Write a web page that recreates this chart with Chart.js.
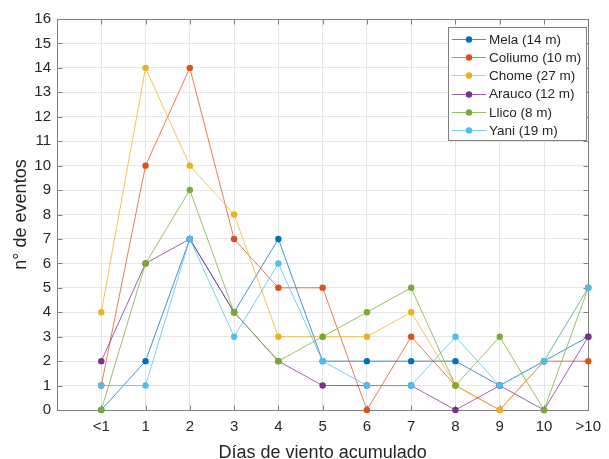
<!DOCTYPE html>
<html>
<head>
<meta charset="utf-8">
<script src="https://cdn.jsdelivr.net/npm/chart.js@4/dist/chart.umd.min.js"></script>
<style>
  html, body { margin: 0; padding: 0; background: #ffffff; }
  #wrap { width: 609px; height: 459px; }
</style>
</head>
<body>
<div id="wrap"><canvas id="c" width="609" height="459"></canvas></div>
<script>
// Accumulated wind days (x categories) and number of events per station
const categories = ['<1', '1', '2', '3', '4', '5', '6', '7', '8', '9', '10', '>10'];
const mela    = [0, 2, 7, 4, 7, 2, 2, 2, 2, 1, 2, 3];
const coliumo = [1, 10, 14, 7, 5, 5, 0, 3, 1, 0, 2, 2];
const chome   = [4, 14, 10, 8, 3, 3, 3, 4, 1, 0, 2, 5];
const arauco  = [2, 6, 7, 4, 2, 1, 1, 1, 0, 1, 0, 3];
const llico   = [0, 6, 9, 4, 2, 3, 4, 5, 1, 3, 0, 5];
const yani    = [1, 1, 7, 3, 6, 2, 1, 1, 3, 1, 2, 5];
const seriesNames = ['Mela (14 m)', 'Coliumo (10 m)', 'Chome (27 m)', 'Arauco (12 m)', 'Llico (8 m)', 'Yani (19 m)'];
const seriesValues = [mela, coliumo, chome, arauco, llico, yani];
const yMin = 0, yMax = 16;

const colors = ['#0072BD', '#D95319', '#EDB120', '#7E2F8E', '#77AC30', '#4DBEEE'];
const lineColors = ['rgba(0,114,189,0.75)', 'rgba(217,83,25,0.75)', 'rgba(237,177,32,0.75)',
                    'rgba(126,47,142,0.75)', 'rgba(119,172,48,0.75)', 'rgba(77,190,238,0.75)'];

const FONT = '"Liberation Sans", Arial, Helvetica, sans-serif';
const TEXT = '#262626';
const AXIS = '#808080';

// later series are painted on top of earlier ones
const datasets = seriesValues.map((vals, i) => ({
  label: seriesNames[i],
  data: vals.map((v, k) => ({ x: k, y: v })),
  order: seriesValues.length - i,
  borderColor: lineColors[i],
  backgroundColor: colors[i],
  pointBackgroundColor: colors[i],
  pointBorderColor: colors[i],
  pointRadius: 3.2,
  pointBorderWidth: 0,
  borderWidth: 1,
  tension: 0,
  clip: false
}));

// Box around the axes with inward tick marks on all four sides
const framePlugin = {
  id: 'frame',
  beforeDatasetsDraw(chart) {
    const { ctx, chartArea: a, scales: { x, y } } = chart;
    ctx.save();
    ctx.strokeStyle = AXIS;
    ctx.lineWidth = 1;
    const L = Math.round(a.left) + 0.5, R = Math.round(a.right) + 0.5;
    const T = Math.round(a.top) + 0.5, B = Math.round(a.bottom) + 0.5;
    ctx.strokeRect(L, T, R - L, B - T);
    const tl = 5;
    ctx.beginPath();
    for (let k = 0; k < categories.length; k++) {
      const px = Math.round(x.getPixelForValue(k)) + 0.5;
      ctx.moveTo(px, B); ctx.lineTo(px, B - tl);
      ctx.moveTo(px, T); ctx.lineTo(px, T + tl);
    }
    for (let v = yMin; v <= yMax; v++) {
      const py = Math.round(y.getPixelForValue(v)) + 0.5;
      ctx.moveTo(L, py); ctx.lineTo(L + tl, py);
      ctx.moveTo(R, py); ctx.lineTo(R - tl, py);
    }
    ctx.stroke();
    ctx.restore();
  }
};

// Boxed legend in the upper right corner of the plot
const boxLegend = {
  id: 'boxLegend',
  afterDatasetsDraw(chart) {
    const { ctx } = chart;
    const bx = 448.5, by = 27.5, bw = 138, bh = 113;
    ctx.save();
    ctx.fillStyle = '#ffffff';
    ctx.fillRect(bx, by, bw, bh);
    ctx.strokeStyle = AXIS;
    ctx.lineWidth = 1;
    ctx.strokeRect(bx, by, bw, bh);
    ctx.font = '13.5px ' + FONT;
    ctx.textBaseline = 'middle';
    ctx.textAlign = 'left';
    chart.data.datasets.forEach((ds, i) => {
      const cy = 39 + i * 18.2;
      ctx.strokeStyle = ds.borderColor;
      ctx.lineWidth = 1;
      ctx.beginPath();
      ctx.moveTo(452, Math.round(cy) + 0.5);
      ctx.lineTo(486, Math.round(cy) + 0.5);
      ctx.stroke();
      ctx.fillStyle = ds.pointBackgroundColor;
      ctx.beginPath();
      ctx.arc(469, Math.round(cy) + 0.5, 3.2, 0, Math.PI * 2);
      ctx.fill();
      ctx.fillStyle = TEXT;
      ctx.fillText(ds.label, 489, cy + 1);
    });
    ctx.restore();
  }
};

new Chart(document.getElementById('c'), {
  type: 'line',
  data: { datasets },
  options: {
    responsive: false,
    devicePixelRatio: 1,
    animation: false,
    layout: { padding: { top: 19, right: 15, left: 0, bottom: 0 } },
    plugins: { legend: { display: false }, tooltip: { enabled: false } },
    scales: {
      x: {
        type: 'linear',
        min: -1,
        max: categories.length - 1,
        afterFit(s) { s.height = 49; },
        afterBuildTicks(s) {
          s.ticks = [];
          for (let v = -1; v < categories.length; v++) s.ticks.push({ value: v });
        },
        ticks: {
          autoSkip: false,
          maxRotation: 0,
          padding: 8,
          color: TEXT,
          font: { family: FONT, size: 15 },
          callback: (v) => (v >= 0 && v < categories.length ? categories[v] : '')
        },
        grid: { color: '#e6e6e6', lineWidth: 1, drawTicks: false },
        border: { display: false },
        title: {
          display: true,
          text: 'Días de viento acumulado',
          color: TEXT,
          font: { family: FONT, size: 18, lineHeight: 1 },
          padding: { top: 0, bottom: -3 }
        }
      },
      y: {
        min: yMin,
        max: yMax,
        afterFit(s) { s.width = 57; },
        ticks: {
          stepSize: 1,
          padding: 6,
          color: TEXT,
          font: { family: FONT, size: 15 }
        },
        grid: { color: '#e6e6e6', lineWidth: 1, drawTicks: false },
        border: { display: false },
        title: {
          display: true,
          text: 'n° de eventos',
          color: TEXT,
          font: { family: FONT, size: 18, lineHeight: 1 },
          padding: { top: 12, bottom: 0 }
        }
      }
    }
  },
  plugins: [framePlugin, boxLegend]
});
</script>
</body>
</html>
